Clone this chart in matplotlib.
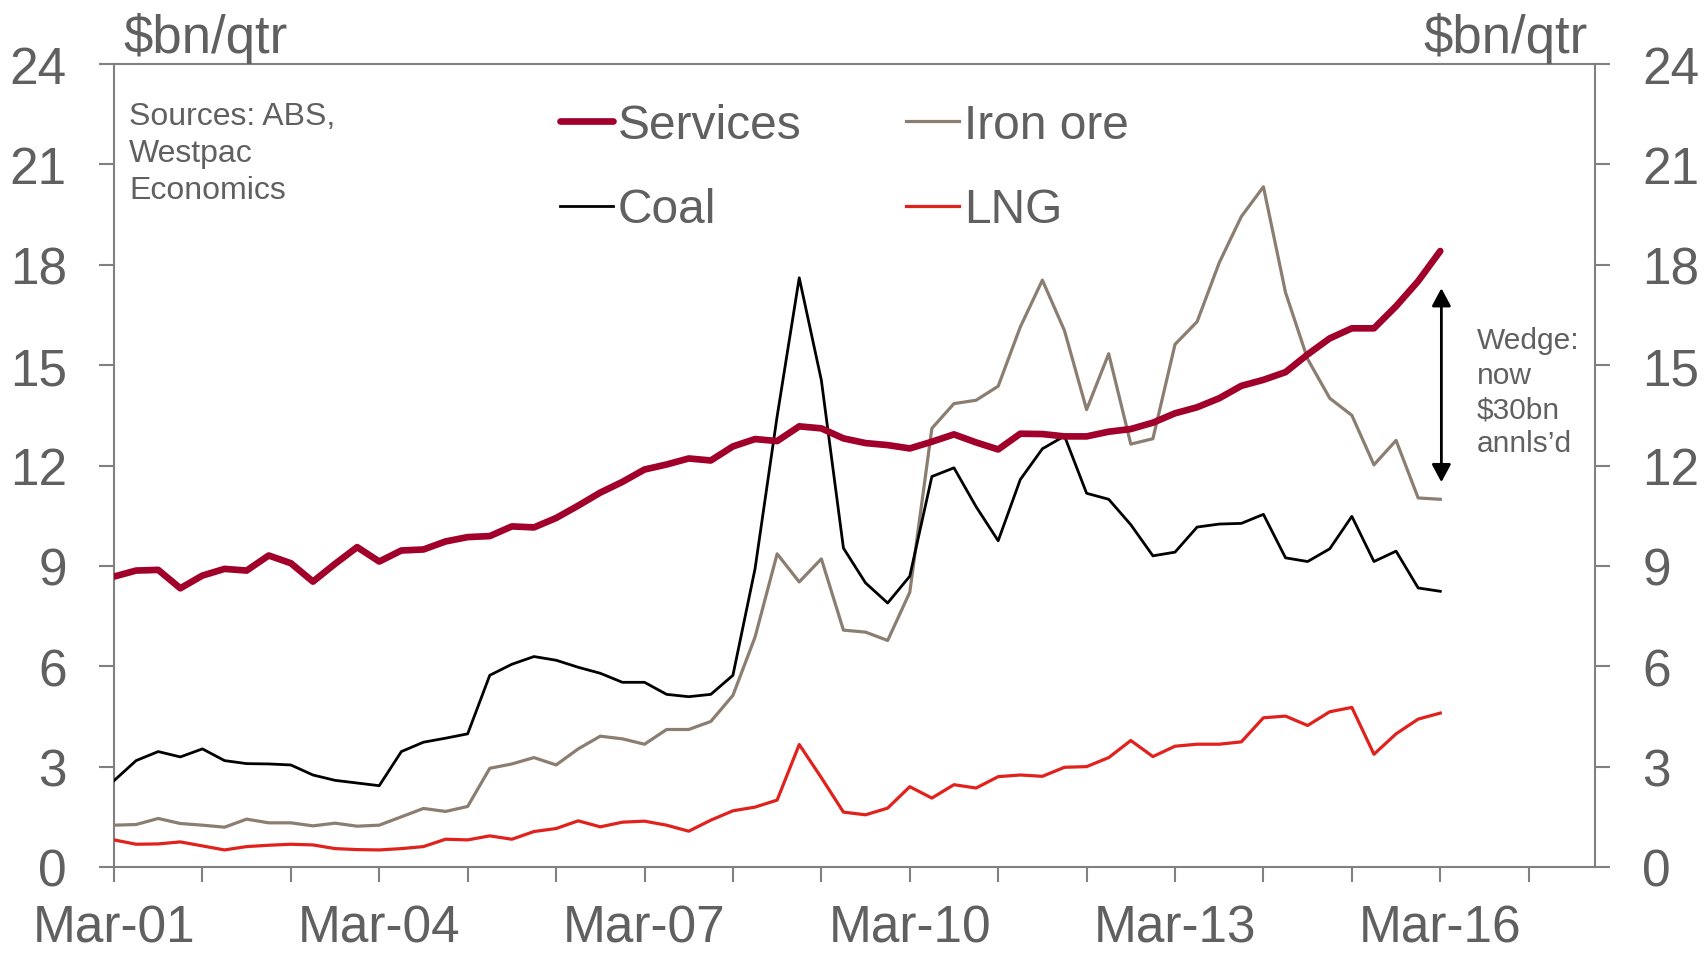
import matplotlib
matplotlib.use('Agg')
import matplotlib.pyplot as plt
import numpy as np

# ---------------- data (A$bn per quarter, Mar-01 .. Mar-16) ----------------
services = [8.68, 8.86, 8.88, 8.33, 8.71, 8.91, 8.86, 9.31, 9.08, 8.53, 9.06,
            9.56, 9.13, 9.46, 9.49, 9.73, 9.86, 9.89, 10.18, 10.15, 10.43,
            10.80, 11.19, 11.51, 11.88, 12.03, 12.21, 12.15, 12.57, 12.79, 12.73,
            13.17, 13.11, 12.81, 12.67, 12.61, 12.51, 12.71, 12.93, 12.69,
            12.48, 12.95, 12.94, 12.87, 12.87, 13.01, 13.09, 13.28, 13.56, 13.74,
            14.01, 14.38, 14.56, 14.79, 15.32, 15.80, 16.10, 16.10, 16.76, 17.51, 18.41]
coal = [2.58, 3.18, 3.45, 3.29, 3.53, 3.18, 3.09, 3.08, 3.05, 2.75, 2.59,
        2.51, 2.43, 3.45, 3.73, 3.85, 3.98, 5.73, 6.06, 6.29, 6.18,
        5.97, 5.79, 5.52, 5.52, 5.16, 5.09, 5.16, 5.73, 8.91, 13.47,
        17.61, 14.55, 9.53, 8.49, 7.89, 8.69, 11.67, 11.93, 10.77,
        9.75, 11.58, 12.50, 12.88, 11.17, 10.99, 10.23, 9.30, 9.41, 10.16,
        10.25, 10.27, 10.54, 9.24, 9.13, 9.51, 10.48, 9.13, 9.44, 8.34, 8.24]
iron_ore = [1.25, 1.27, 1.45, 1.30, 1.25, 1.19, 1.43, 1.32, 1.32, 1.23, 1.31,
            1.22, 1.25, 1.50, 1.75, 1.66, 1.81, 2.95, 3.08, 3.27, 3.05,
            3.53, 3.91, 3.83, 3.67, 4.11, 4.11, 4.35, 5.13, 6.87, 9.36,
            8.52, 9.21, 7.08, 7.02, 6.77, 8.21, 13.11, 13.85, 13.95,
            14.37, 16.14, 17.54, 16.03, 13.67, 15.34, 12.64, 12.80, 15.62, 16.30,
            18.06, 19.44, 20.33, 17.17, 15.18, 14.01, 13.50, 12.02, 12.75, 11.03, 10.99]
lng = [0.81, 0.68, 0.69, 0.75, 0.63, 0.51, 0.61, 0.65, 0.68, 0.66, 0.55,
       0.52, 0.51, 0.55, 0.61, 0.83, 0.81, 0.93, 0.83, 1.06, 1.15,
       1.38, 1.20, 1.34, 1.37, 1.25, 1.07, 1.40, 1.68, 1.79, 2.00,
       3.66, 2.67, 1.64, 1.56, 1.76, 2.40, 2.06, 2.46, 2.36,
       2.70, 2.75, 2.71, 2.98, 3.00, 3.27, 3.78, 3.30, 3.61, 3.67,
       3.67, 3.74, 4.46, 4.51, 4.23, 4.64, 4.77, 3.37, 3.98, 4.42, 4.60]

year_labels = ['Mar-01', '', '', 'Mar-04', '', '', 'Mar-07', '', '',
               'Mar-10', '', '', 'Mar-13', '', '', 'Mar-16', '']
y_ticks = [0, 3, 6, 9, 12, 15, 18, 21, 24]

# ---------------- style ----------------
plt.rcParams['font.family'] = ['Liberation Sans', 'DejaVu Sans']
GREY = '#606060'
SPINE = '#808080'
C_SERV = '#A0002A'
C_IRON = '#8C7D71'
C_COAL = '#000000'
C_LNG = '#E0211C'

W, H = 1705, 954
fig = plt.figure(figsize=(W / 100, H / 100), dpi=100)
ax = fig.add_axes([114 / W, 1 - 868 / H, (1595 - 114) / W, (868 - 65) / H])

x = np.arange(len(services))
l_serv, = ax.plot(x, services, color=C_SERV, lw=4.8, solid_capstyle='round', solid_joinstyle='round', zorder=5)
l_iron, = ax.plot(x, iron_ore, color=C_IRON, lw=2.3, solid_joinstyle='round', zorder=3)
l_coal, = ax.plot(x, coal, color=C_COAL, lw=2.0, solid_joinstyle='round', zorder=4)
l_lng, = ax.plot(x, lng, color=C_LNG, lw=2.3, solid_joinstyle='round', zorder=3)

ax.set_xlim(0, 67)
ax.set_ylim(0, 24)

ax.set_xticks(np.arange(0, 68, 4))
ax.set_xticklabels(year_labels)
ax.set_yticks(y_ticks)
ax.set_yticklabels([str(v) for v in y_ticks])

for s in ax.spines.values():
    s.set_color(SPINE)
    s.set_linewidth(1.5)

ax.tick_params(axis='both', colors=SPINE, labelcolor=GREY, length=11, width=1.5,
               direction='out')
ax.tick_params(axis='x', labelsize=37, pad=15)
ax.tick_params(axis='y', labelsize=37, pad=23, left=True, right=True,
               labelleft=True, labelright=True)

# axis unit labels
fig.text(123 / W, 1 - 53 / H, r'\$bn/qtr', fontsize=38, color=GREY, ha='left', va='baseline')
fig.text(1588 / W, 1 - 53 / H, r'\$bn/qtr', fontsize=38, color=GREY, ha='right', va='baseline')

# sources
ax.text(0.69, 21.35, 'Sources: ABS,\nWestpac\nEconomics', fontsize=23, color=GREY,
        ha='left', va='center', linespacing=1.31)

# wedge annotation
ax.annotate('', xy=(60.05, 11.5), xytext=(60.05, 17.3),
            arrowprops=dict(arrowstyle='<|-|>,head_length=0.43,head_width=0.23',
                            color='black', lw=2, mutation_scale=25,
                            shrinkA=0, shrinkB=0))
ax.text(61.65, 14.2, 'Wedge:\nnow\n$30bn\nannls\u2019d', fontsize=21.5, color=GREY,
        ha='left', va='center', linespacing=1.29)

# legend
leg = ax.legend([l_serv, l_coal, l_iron, l_lng],
                ['Services', 'Coal', 'Iron ore', 'LNG'],
                ncol=2, loc='upper left', bbox_to_anchor=(560 / W, 1 - 104 / H),
                bbox_transform=fig.transFigure, frameon=False, fontsize=34.5,
                handlelength=1.1, handletextpad=0.1, columnspacing=2.19,
                labelspacing=0.82, borderpad=0, borderaxespad=0)
for t in leg.get_texts():
    t.set_color(GREY)

fig.savefig('out.png', dpi=100)
